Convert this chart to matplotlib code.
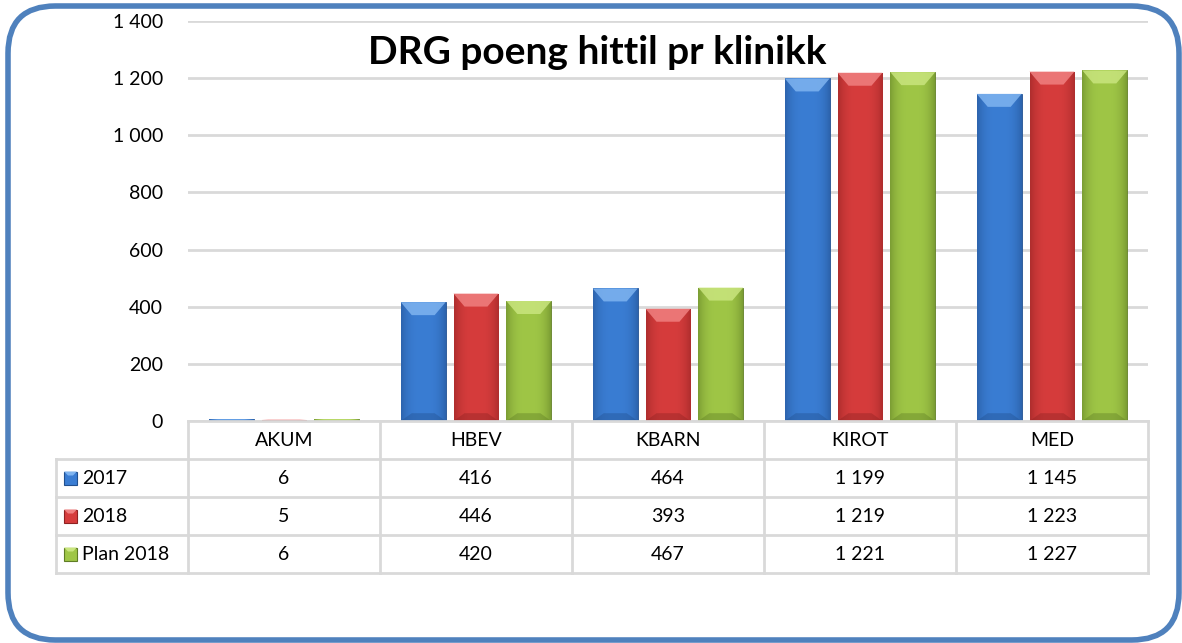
import numpy as np
import matplotlib.pyplot as plt
from matplotlib.patches import FancyBboxPatch, Polygon, Rectangle
from matplotlib.lines import Line2D
from matplotlib.colors import to_rgb

plt.rcParams['font.family'] = ['Lato', 'DejaVu Sans']

categories = ['AKUM', 'HBEV', 'KBARN', 'KIROT', 'MED']
series = ['2017', '2018', 'Plan 2018']
v2017 = [6, 416, 464, 1199, 1145]
v2018 = [5, 446, 393, 1219, 1223]
vplan = [6, 420, 467, 1221, 1227]
yticks = [0, 200, 400, 600, 800, 1000, 1200, 1400]

colors = ['#3a7dd3', '#d63c3c', '#9fc646']
dark = ['#22508f', '#8e2222', '#5f7d25']
light = ['#7fb4f0', '#f08080', '#c9e57e']

W, H = 1182, 643
fig = plt.figure(figsize=(W / 100, H / 100), dpi=100)


def fx(px):
    return px / W


def fy(py):
    return 1 - py / H


# plot area in pixels
L, R, T, B = 188, 1148, 21, 421
ax = fig.add_axes([fx(L), fy(B), fx(R) - fx(L), fy(T) - fy(B)])
for s in ax.spines.values():
    s.set_visible(False)
ax.set_xticks([])
ax.set_yticks(yticks)
ax.set_yticklabels([f'{t:,}'.replace(',', ' ') for t in yticks], fontsize=14)
ax.tick_params(axis='y', length=0, pad=18)
ax.grid(axis='y', color='#d9d9d9', linewidth=2)
ax.set_axisbelow(True)

# one px in data units
dxp = len(categories) / (R - L)
dyp = 1400 / (B - T)

width = 0.234
step = 0.275
grad = np.linspace(0, 1, 64)
for si, vals in enumerate([v2017, v2018, vplan]):
    c = np.array(to_rgb(colors[si]))
    d = np.array(to_rgb(dark[si]))
    for ci, v in enumerate(vals):
        x0 = ci + (si - 1) * step - width / 2
        bar = ax.bar(x0, v, width=width, align='edge', color=colors[si],
                     edgecolor=dark[si], linewidth=0.6, zorder=3)[0]
        # horizontal shading
        g = 1 - 0.55 * (np.abs(grad - 0.5) * 2) ** 3
        img = np.ones((1, 64, 4))
        img[0, :, :3] = d + (c - d) * g[:, None]
        im = ax.imshow(img, extent=(x0, x0 + width, 0, v), aspect='auto', zorder=3.1)
        im.set_clip_path(bar)
        # top bevel
        bx = 11 * dxp
        by = min(13 * dyp, v / 2)
        top = Polygon([(x0, v), (x0 + width, v), (x0 + width - bx, v - by), (x0 + bx, v - by)],
                      closed=True, facecolor=light[si], alpha=0.85, edgecolor='none', zorder=3.2)
        ax.add_patch(top)
        # bottom bevel
        bot = Polygon([(x0, 0), (x0 + width, 0), (x0 + width - bx, by * 0.6), (x0 + bx, by * 0.6)],
                      closed=True, facecolor=dark[si], alpha=0.4, edgecolor='none', zorder=3.2)
        ax.add_patch(bot)
ax.set_xlim(-0.5, len(categories) - 0.5)
ax.set_ylim(0, 1400)

# data table
lc = '#d9d9d9'
lw = 2
colw = (R - L) / len(categories)
leg_l = 56
rows_y = [421, 459, 497, 535, 573]


def hline(x1, x2, y):
    fig.add_artist(Line2D([fx(x1), fx(x2)], [fy(y), fy(y)], color=lc, linewidth=lw))


def vline(x, y1, y2):
    fig.add_artist(Line2D([fx(x), fx(x)], [fy(y1), fy(y2)], color=lc, linewidth=lw))


hline(L, R, rows_y[0])
for y in rows_y[1:]:
    hline(leg_l, R, y)
vline(leg_l, rows_y[1], rows_y[-1])
for i in range(len(categories) + 1):
    vline(L + i * colw, rows_y[0], rows_y[-1])

for i, cat in enumerate(categories):
    fig.text(fx(L + (i + 0.5) * colw), fy((rows_y[0] + rows_y[1]) / 2), cat,
             ha='center', va='center', fontsize=14)

for si, (name, vals) in enumerate(zip(series, [v2017, v2018, vplan])):
    yc = (rows_y[si + 1] + rows_y[si + 2]) / 2
    sq = 13
    fig.add_artist(Rectangle((fx(64), fy(yc + sq / 2)), sq / W, sq / H,
                             facecolor=colors[si], edgecolor=dark[si], linewidth=0.8))
    fig.add_artist(Polygon([(fx(64), fy(yc - sq / 2)), (fx(64 + sq), fy(yc - sq / 2)),
                            (fx(64 + sq - 4), fy(yc - sq / 2 + 4)), (fx(68), fy(yc - sq / 2 + 4))],
                           closed=True, facecolor=light[si], edgecolor='none'))
    fig.text(fx(82), fy(yc), name, ha='left', va='center', fontsize=14)
    for ci, v in enumerate(vals):
        fig.text(fx(L + (ci + 0.5) * colw), fy(yc), f'{v:,}'.replace(',', ' '),
                 ha='center', va='center', fontsize=14)

fig.text(fx(597), fy(52), 'DRG poeng hittil pr klinikk', ha='center', va='center',
         fontsize=28, fontweight='bold')

# rounded frame
frame = FancyBboxPatch((fx(8), fy(640)), fx(1179) - fx(8), fy(6) - fy(640),
                       boxstyle='round,pad=0,rounding_size=0.04',
                       transform=fig.transFigure, facecolor='none',
                       edgecolor='#4f81bd', linewidth=4, mutation_aspect=W / H)
fig.add_artist(frame)

fig.savefig('out.png', dpi=100)
